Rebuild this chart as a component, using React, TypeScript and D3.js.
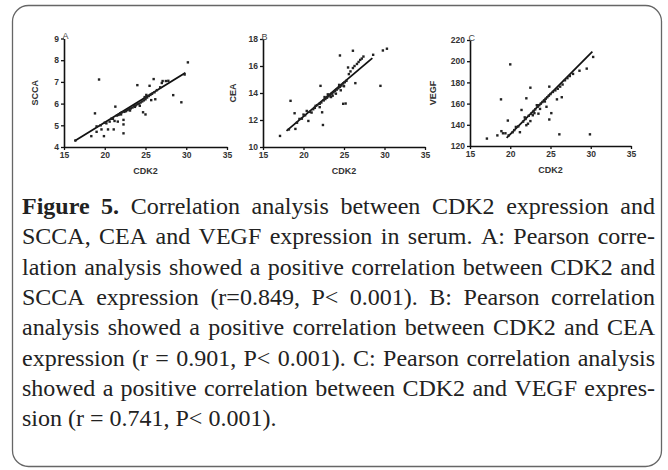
import { useRef, useEffect, useMemo } from "react";
import { select, scaleLinear, axisBottom, axisLeft, line } from "d3";

// x axis (CDK2) shared by the three panels
const xTicks = [15, 20, 25, 30, 35];

// panel A: CDK2 vs SCCA
const sccaTicks = [4, 5, 6, 7, 8, 9];
const sccaPoints: [number, number][] = [
  [18.35, 4.5], [18.8, 5.55], [19.0, 4.7], [19.3, 7.11], [19.0, 4.95], [19.6, 4.81],
  [19.9, 4.5], [20.2, 5.09], [20.4, 4.81], [20.6, 5.17], [21.1, 4.81], [21.2, 5.2],
  [21.6, 5.17], [21.3, 5.86], [22.3, 5.25], [22.3, 5.04], [22.3, 4.63], [24.0, 6.85],
  [24.7, 5.6], [25.0, 5.5], [26.0, 7.13], [25.7, 6.16], [26.2, 6.2], [28.4, 6.39],
  [29.4, 6.06], [30.2, 7.9], [29.8, 7.34], [27.1, 7.04], [27.5, 7.04], [27.8, 7.05],
  [25.5, 6.82], [16.4, 4.3], [19.5, 5.0], [20.0, 5.12], [20.8, 5.3], [21.5, 5.45],
  [21.7, 5.48], [21.9, 5.55], [22.1, 5.6], [22.4, 5.62], [22.6, 5.65], [22.8, 5.7],
  [23.0, 5.75], [23.2, 5.78], [23.4, 5.82], [23.6, 5.88], [23.8, 5.92], [24.0, 5.97],
  [24.2, 6.0], [24.4, 6.05], [24.6, 6.1], [24.8, 6.15], [25.0, 6.2], [25.2, 6.28],
  [25.4, 6.35], [25.6, 6.4], [25.8, 6.45], [26.1, 6.52], [26.4, 6.62], [26.8, 6.75],
  [27.0, 6.95], [23.1, 5.68], [23.7, 5.85], [24.3, 5.9], [24.9, 6.3], [25.1, 6.4],
  [22.0, 5.5], [21.0, 5.3],
];
const sccaFit: [number, number][] = [[16.3, 4.28], [29.9, 7.42]];

// panel B: CDK2 vs CEA
const ceaTicks = [10, 12, 14, 16, 18];
const ceaPoints: [number, number][] = [
  [17.1, 10.82], [18.4, 13.42], [18.9, 12.5], [19.0, 11.34], [19.5, 12.08], [20.6, 11.93],
  [20.4, 12.67], [22.1, 14.53], [22.3, 12.57], [22.4, 11.63], [24.5, 16.78], [26.1, 17.13],
  [24.9, 13.2], [25.2, 13.22], [26.4, 14.73], [25.5, 15.89], [27.4, 16.7], [28.6, 16.83],
  [29.8, 17.15], [30.3, 17.28], [29.5, 14.53], [25.6, 15.4], [25.8, 15.6], [26.1, 15.85],
  [26.3, 16.0], [26.6, 16.15], [26.8, 16.3], [27.0, 16.45], [27.2, 16.55], [18.2, 11.3],
  [19.2, 11.8], [19.8, 12.1], [20.2, 12.35], [20.8, 12.6], [21.2, 12.8], [21.4, 12.9],
  [21.7, 13.1], [22.0, 13.2], [22.2, 13.3], [22.5, 13.45], [22.7, 13.55], [22.9, 13.65],
  [23.1, 13.75], [23.3, 13.85], [23.5, 13.95], [23.7, 14.05], [23.9, 14.15], [24.1, 14.25],
  [24.3, 14.35], [24.5, 14.45], [24.7, 14.55], [24.9, 14.7], [25.1, 14.8], [25.3, 14.9],
  [21.5, 13.05], [22.6, 13.7], [23.4, 13.7], [24.0, 13.95], [24.6, 14.2], [21.0, 12.55],
  [23.0, 13.9], [22.0, 12.95], [20.0, 12.4], [23.6, 13.8], [24.4, 14.6], [25.0, 14.5],
];
const ceaFit: [number, number][] = [[17.9, 11.19], [28.5, 16.58]];

// panel C: CDK2 vs VEGF
const vegfTicks = [120, 140, 160, 180, 200, 220];
const vegfPoints: [number, number][] = [
  [17.1, 127], [18.4, 130], [18.85, 164], [18.9, 134], [19.1, 132], [19.4, 132],
  [19.7, 144], [20.0, 197], [20.7, 138], [21.2, 133], [21.4, 154], [22.0, 165],
  [22.5, 175], [22.0, 139.6], [22.2, 141], [22.5, 143.5], [24.85, 176], [24.85, 145],
  [25.1, 151], [26.1, 131], [29.9, 131], [26.4, 166], [25.8, 164], [28.6, 191],
  [29.5, 193], [30.3, 204], [23.3, 158.5], [23.5, 150.5], [24.5, 157], [20.3, 133],
  [19.8, 130], [20.5, 135], [21.0, 138.5], [21.6, 143], [21.9, 145.5], [22.3, 148.5],
  [22.6, 150.5], [22.9, 153], [23.1, 154.5], [23.4, 157], [23.6, 158.5], [23.8, 160],
  [24.0, 161.5], [24.2, 163], [24.4, 164.5], [24.6, 166], [24.8, 167.5], [25.0, 169],
  [25.3, 171], [25.6, 172.5], [25.9, 174], [26.2, 176], [26.5, 178], [26.8, 182],
  [27.1, 184], [27.4, 186], [27.8, 188], [23.0, 151], [23.7, 155], [24.3, 162],
  [22.8, 149], [21.8, 147],
];
const vegfFit: [number, number][] = [[19.55, 127.6], [30.2, 209]];

const captionLines = [
  "Figure 5. Correlation analysis between CDK2 expression and",
  "SCCA, CEA and VEGF expression in serum. A: Pearson corre-",
  "lation analysis showed a positive correlation between CDK2 and",
  "SCCA expression (r=0.849, P< 0.001). B: Pearson correlation",
  "analysis showed a positive correlation between CDK2 and CEA",
  "expression (r = 0.901, P< 0.001). C: Pearson correlation analysis",
  "showed a positive correlation between CDK2 and VEGF expres-",
  "sion (r = 0.741, P< 0.001).",
];
const boldWords = 2; // "Figure 5."

const sans = "'Liberation Sans', Arial, sans-serif";
const serif = "'Liberation Serif', 'Times New Roman', serif";

type PanelProps = {
  left: number;
  top: number;
  width: number;
  height: number;
  yTicks: number[];
  yLabel: string;
  yLabelX: number;
  letter: string;
  points: [number, number][];
  fit: [number, number][];
};

const Panel = ({ left, top, width, height, yTicks, yLabel, yLabelX, letter, points, fit }: PanelProps) => {
  const gRef = useRef<SVGGElement>(null);

  useEffect(() => {
    const g = select(gRef.current);
    const x = scaleLinear().domain([xTicks[0], xTicks[xTicks.length - 1]]).range([0, width]);
    const y = scaleLinear().domain([yTicks[0], yTicks[yTicks.length - 1]]).range([height, 0]);

    g.selectAll("*").remove();

    // axes
    const xa = g.append("g").attr("transform", `translate(0,${height})`)
      .call(axisBottom(x).tickValues(xTicks).tickFormat((d) => String(d)).tickSize(3).tickSizeOuter(0).tickPadding(2));
    const ya = g.append("g")
      .call(axisLeft(y).tickValues(yTicks).tickFormat((d) => String(d)).tickSize(3).tickSizeOuter(0).tickPadding(2));
    [xa, ya].forEach((a) => {
      a.select(".domain").attr("stroke", "#111").attr("stroke-width", 1.6);
      a.selectAll(".tick line").attr("stroke", "#111").attr("stroke-width", 1.3);
      a.selectAll(".tick text")
        .attr("font-family", sans)
        .attr("font-weight", "bold")
        .attr("font-size", 8.5)
        .attr("fill", "#333");
    });

    // fit line
    g.append("path")
      .datum(fit)
      .attr("d", line<[number, number]>().x((d) => x(d[0])).y((d) => y(d[1])))
      .attr("stroke", "#111")
      .attr("stroke-width", 1.8)
      .attr("fill", "none");

    // points
    g.selectAll(".pt")
      .data(points)
      .join("rect")
      .attr("class", "pt")
      .attr("x", (d) => x(d[0]) - 1.2)
      .attr("y", (d) => y(d[1]) - 1.2)
      .attr("width", 2.4)
      .attr("height", 2.4)
      .attr("fill", "#222");

    // titles
    g.append("text")
      .attr("x", width / 2)
      .attr("y", height + 27)
      .attr("text-anchor", "middle")
      .attr("font-family", sans)
      .attr("font-weight", "bold")
      .attr("font-size", 9)
      .attr("fill", "#333")
      .text("CDK2");
    g.append("text")
      .attr("transform", `translate(${yLabelX},${height / 2}) rotate(-90)`)
      .attr("text-anchor", "middle")
      .attr("dy", "0.35em")
      .attr("font-family", sans)
      .attr("font-weight", "bold")
      .attr("font-size", 9)
      .attr("fill", "#333")
      .text(yLabel);
    g.append("text")
      .attr("x", -1.5)
      .attr("y", 0.5)
      .attr("font-family", sans)
      .attr("font-size", 9)
      .attr("fill", "#444")
      .text(letter);
  }, []);

  return <g ref={gRef} transform={`translate(${left},${top})`} />;
};

const Caption = ({ x0, x1, y0, lh }: { x0: number; x1: number; y0: number; lh: number }) => {
  const layout = useMemo(() => {
    const ctx = document.createElement("canvas").getContext("2d")!;
    const reg = `24px ${serif}`;
    const bold = `bold 24px ${serif}`;
    ctx.font = reg;
    const space = ctx.measureText(" ").width;
    return captionLines.map((ln, li) => {
      const words = ln.split(" ").map((w, wi) => {
        const isBold = li === 0 && wi < boldWords;
        ctx.font = isBold ? bold : reg;
        return { w, isBold, width: ctx.measureText(w).width };
      });
      const sum = words.reduce((s, d) => s + d.width, 0);
      const last = li === captionLines.length - 1;
      const gap = last ? space : (x1 - x0 - sum) / (words.length - 1);
      let cx = x0;
      return words.map((d) => {
        const out = { ...d, x: cx };
        cx += d.width + gap;
        return out;
      });
    });
  }, [x0, x1]);

  return (
    <g fontFamily={serif} fontSize={24} fill="#222">
      {layout.map((ws, li) =>
        ws.map((d, wi) => (
          <text key={`${li}-${wi}`} x={d.x} y={y0 + li * lh} fontWeight={d.isBold ? "bold" : "normal"}>
            {d.w}
          </text>
        ))
      )}
    </g>
  );
};

export default function App() {
  return (
    <svg width={668} height={470} style={{ position: "absolute", left: 0, top: 0, background: "#fff" }}>
      <rect x={12.5} y={5.5} width={649} height={461} rx={16} fill="#fff" stroke="#666" strokeWidth={1.3} />
      <Panel left={64} top={38.5} width={163} height={108.5} yTicks={sccaTicks} yLabel="SCCA" yLabelX={-29} letter="A" points={sccaPoints} fit={sccaFit} />
      <Panel left={263} top={39} width={162} height={108} yTicks={ceaTicks} yLabel="CEA" yLabelX={-30} letter="B" points={ceaPoints} fit={ceaFit} />
      <Panel left={470} top={40} width={161} height={106} yTicks={vegfTicks} yLabel="VEGF" yLabelX={-37} letter="C" points={vegfPoints} fit={vegfFit} />
      <Caption x0={22} x1={655} y0={214} lh={30.3} />
    </svg>
  );
}
